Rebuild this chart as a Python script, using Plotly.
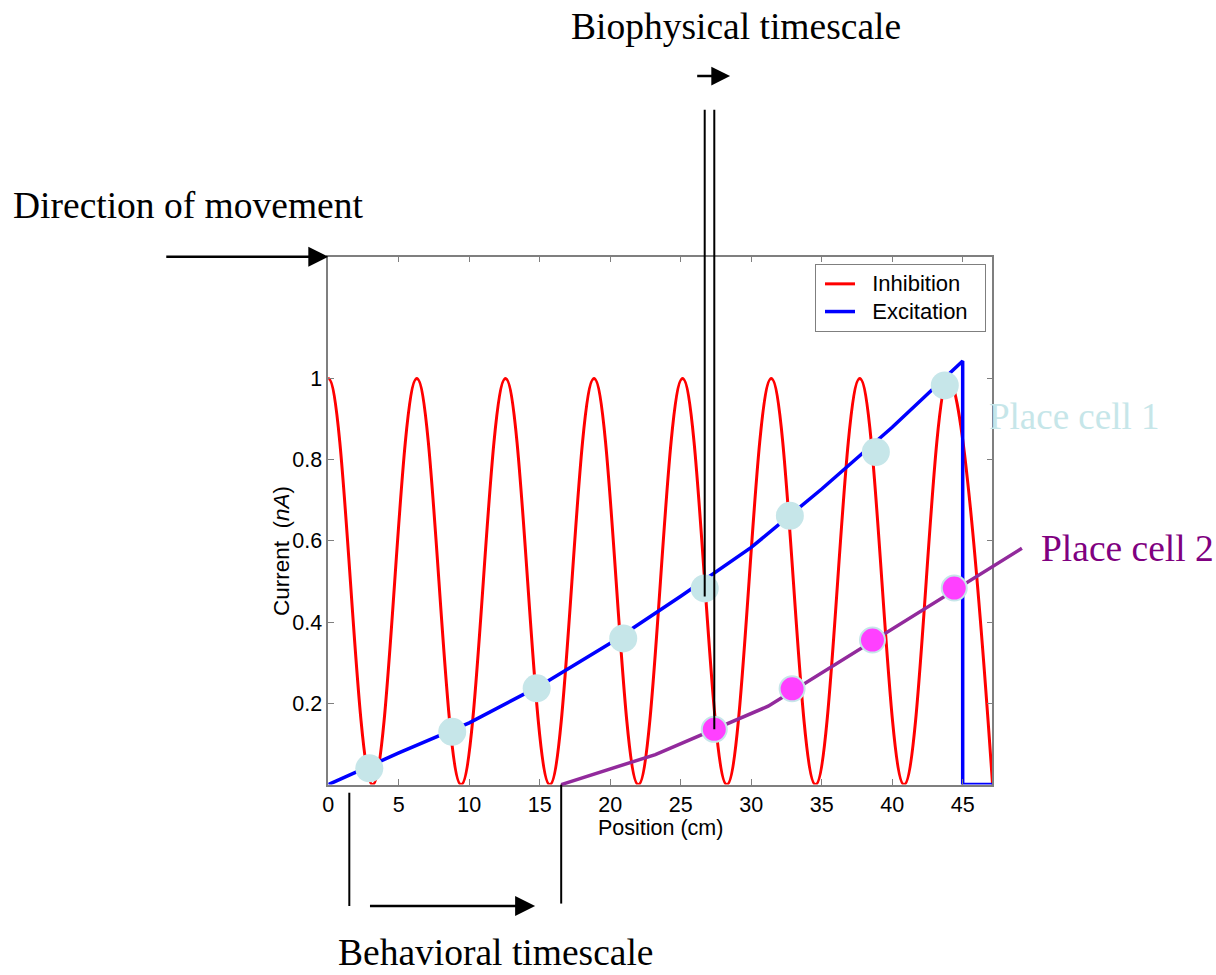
import plotly.graph_objects as go

# ---- data -------------------------------------------------------------
# Inhibitory current: peaks and troughs of the theta oscillation (cm, nA)
inhibition_x = [-3.14, 0.0, 3.14, 6.28, 9.42, 12.57, 15.71, 18.85, 21.99,
                25.13, 28.27, 31.42, 34.56, 37.70, 40.84, 43.98, 47.12]
inhibition_y = [0, 1, 0, 1, 0, 1, 0, 1, 0, 1, 0, 1, 0, 1, 0, 1, 0]

# Excitatory ramp of place cell 1, cut off at the end of the field
excitation_x = [0, 5, 10, 15, 20, 25, 30, 35, 40, 45, 45, 47.1]
excitation_y = [0.0, 0.078, 0.152, 0.243, 0.348, 0.464, 0.584, 0.728, 0.88,
                1.043, 0.0, 0.0]

# Spike times (phase) of place cell 1
cell1_x = [2.91, 8.79, 14.78, 20.92, 26.7, 32.74, 38.84, 43.73]
cell1_y = [0.040, 0.130, 0.237, 0.360, 0.483, 0.662, 0.819, 0.983]

# Excitatory ramp of place cell 2 (runs past the right edge of the axes)
cell2_line_x = [16.52, 23.2, 31.2, 49.2]
cell2_line_y = [0.0, 0.074, 0.193, 0.582]
cell2_x = [27.38, 32.9, 38.6, 44.4]
cell2_y = [0.136, 0.236, 0.356, 0.484]

x_ticks = [0, 5, 10, 15, 20, 25, 30, 35, 40, 45]
y_ticks = [0.2, 0.4, 0.6, 0.8, 1]
y_tick_text = ["0.2", "0.4", "0.6", "0.8", "1"]

X_RANGE = [0, 47.1]
Y_RANGE = [0, 1.3]

# ---- layout geometry ------------------------------------------------------
W, H = 1216, 975
X_DOM = [328.3 / W, 992.3 / W]
Y_DOM = [1 - 784.6 / H, 1 - 256.7 / H]


def full_page_range(rng, dom):
    """Range of an axis spanning the whole page with the same units."""
    span = (rng[1] - rng[0]) / (dom[1] - dom[0])
    return [rng[0] - dom[0] * span, rng[0] + (1 - dom[0]) * span]


X2_RANGE = full_page_range(X_RANGE, X_DOM)
Y2_RANGE = full_page_range(Y_RANGE, Y_DOM)

SANS = "Liberation Sans, Arial, sans-serif"
SERIF = "Liberation Serif, Times New Roman, serif"
AXIS_GREY = "#7f7f7f"
CYAN = "#c6e6e9"
MAGENTA = "#ff40ff"
PURPLE = "#922a9c"
NB = "\u00a0"


def legend_name(text):
    # larger glyphs than the row spacing of the legend font
    return '<span style="font-size:22px">' + NB * 2 + text + NB * 2 + "</span>"


fig = go.Figure()

fig.add_trace(go.Scatter(
    x=inhibition_x, y=inhibition_y, name=legend_name("Inhibition"),
    mode="lines",
    line=dict(color="#ff0000", width=3, shape="spline", smoothing=1.1),
    xaxis="x", yaxis="y"))
fig.add_trace(go.Scatter(
    x=excitation_x, y=excitation_y, name=legend_name("Excitation"),
    mode="lines", line=dict(color="#0000ff", width=3.5),
    xaxis="x", yaxis="y"))

# overlay layer on the full page, sharing the data units of the main axes
fig.add_trace(go.Scatter(
    x=cell2_line_x, y=cell2_line_y, mode="lines", showlegend=False,
    line=dict(color=PURPLE, width=3.5), xaxis="x2", yaxis="y2"))
fig.add_trace(go.Scatter(
    x=cell1_x, y=cell1_y, mode="markers", showlegend=False,
    marker=dict(size=28, color=CYAN, line=dict(width=0)),
    xaxis="x2", yaxis="y2"))
fig.add_trace(go.Scatter(
    x=cell2_x, y=cell2_y, mode="markers", showlegend=False,
    marker=dict(size=25, color=MAGENTA, line=dict(width=2, color=CYAN)),
    xaxis="x2", yaxis="y2"))

# pointer lines
top_y = 1.662
bottom_y = -0.299
fig.add_shape(type="line", xref="x2", yref="y2", x0=cell1_x[4], x1=cell1_x[4],
              y0=top_y, y1=cell1_y[4] - 0.02, line=dict(color="black", width=2))
fig.add_shape(type="line", xref="x2", yref="y2", x0=cell2_x[0], x1=cell2_x[0],
              y0=top_y, y1=cell2_y[0], line=dict(color="black", width=2))
fig.add_shape(type="line", xref="x2", yref="y2", x0=1.49, x1=1.49,
              y0=-0.02, y1=bottom_y, line=dict(color="black", width=2))
fig.add_shape(type="line", xref="x2", yref="y2", x0=cell2_line_x[0],
              x1=cell2_line_x[0], y0=0, y1=bottom_y + 0.006,
              line=dict(color="black", width=2))


def arrow(x_tail, x_head, y, width, size):
    fig.add_annotation(x=x_head, y=y, ax=x_tail, ay=y, xref="x2", yref="y2",
                       axref="x2", ayref="y2", text="", showarrow=True,
                       arrowhead=2, arrowwidth=width, arrowsize=size,
                       arrowcolor="black")


arrow(-11.6, 0.0, Y_RANGE[1], 2.5, 1.6)
arrow(26.06, 28.5, 1.745, 2.5, 1.5)
arrow(2.85, 14.67, bottom_y, 2.5, 1.6)


def label(text, x_px, y_px, size, color="black", yanchor="middle"):
    fig.add_annotation(x=x_px / W, y=1 - y_px / H, xref="paper", yref="paper",
                       text=text, showarrow=False, xanchor="center",
                       yanchor=yanchor,
                       font=dict(family=SERIF, size=size, color=color))


label("Biophysical timescale", 735.5, 27, 37.5)
label("Direction of movement", 187.5, 205, 37.5)
label("Behavioral timescale", 496, H, 37.5, yanchor="bottom")
label("Place cell 1", 1074, 416, 37, CYAN)
label("Place cell 2", 1127, 548, 37.5, "#800080")

# axis titles
fig.add_annotation(x=660 / W, y=1 - 828 / H, xref="paper", yref="paper",
                   text="Position (cm)", showarrow=False,
                   xanchor="center", yanchor="middle",
                   font=dict(family=SANS, size=21.5, color="black"))
fig.add_annotation(x=281 / W, y=1 - 551 / H, xref="paper", yref="paper",
                   text="Current  (<i>nA</i>)", showarrow=False, textangle=-90,
                   xanchor="center", yanchor="middle",
                   font=dict(family=SANS, size=22.5, color="black"))

axis_common = dict(showgrid=False, zeroline=False, showline=True,
                   linecolor=AXIS_GREY, linewidth=1.5, mirror="ticks",
                   ticks="inside", ticklen=6, tickcolor=AXIS_GREY,
                   tickwidth=1.2, automargin=False,
                   tickfont=dict(family=SANS, size=21.5, color="black"))

fig.update_layout(
    template="none",
    width=W, height=H,
    margin=dict(l=0, r=0, t=0, b=0, pad=0, autoexpand=False),
    paper_bgcolor="white", plot_bgcolor="rgba(0,0,0,0)",
    xaxis=dict(domain=X_DOM, range=X_RANGE, tickvals=x_ticks,
               anchor="y", **axis_common),
    yaxis=dict(domain=Y_DOM, range=Y_RANGE, tickvals=y_ticks,
               ticktext=y_tick_text, anchor="x", **axis_common),
    xaxis2=dict(domain=[0, 1], range=X2_RANGE, anchor="y2", visible=False),
    yaxis2=dict(domain=[0, 1], range=Y2_RANGE, anchor="x2", visible=False),
    legend=dict(x=815 / W, y=1 - 264 / H, xanchor="left", yanchor="top",
                bgcolor="white", bordercolor=AXIS_GREY, borderwidth=1,
                font=dict(family=SANS, size=19, color="black"),
                indentation=4, tracegroupgap=0),
    showlegend=True,
)

fig.write_html("out.html")
